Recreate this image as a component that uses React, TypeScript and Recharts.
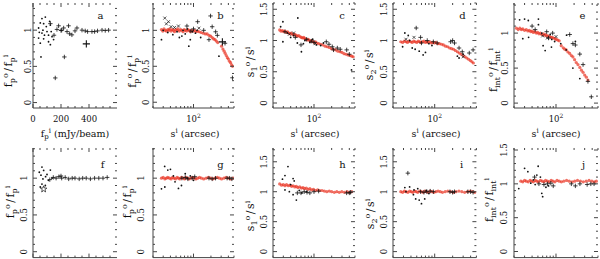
import React from "react";
import { ScatterChart, Scatter, XAxis, YAxis } from "recharts";

type Pt = [number, number];

// ---- tick positions ----
const linXMajor = [0, 200, 400];
const linXMinor = [50, 100, 150, 250, 300, 350, 450, 500, 550];
const logXMajor = [100];
const logXMinor = [20, 30, 40, 50, 60, 70, 80, 90, 200, 300, 400, 500];
const yMajor = [0, 0.5, 1, 1.5];
const yMinor = [0.1, 0.2, 0.3, 0.4, 0.6, 0.7, 0.8, 0.9, 1.1, 1.2, 1.3, 1.4, 1.6, 1.7];

// ---- panel a (peak flux vs peak flux) ----
const aDots: Pt[] = [[64, 1.16], [88, 1.18], [52, 1.1], [76, 1.09], [119, 1.12], [124, 1.07], [40, 1.03], [71, 1.0], [100, 0.98], [64, 0.96], [111, 0.93], [136, 0.91], [40, 0.89], [76, 0.88], [111, 0.84], [52, 0.82], [147, 0.87], [124, 0.8], [57, 0.63], [95, 1.05], [82, 0.93], [45, 0.97], [130, 0.98]];
const aPlus: Pt[] = [[124, 1.09], [171, 1.01], [183, 1.06], [200, 0.995], [219, 1.03], [254, 1.06], [243, 0.98], [262, 0.95], [278, 0.935], [314, 1.03], [350, 1.0], [373, 0.99], [390, 0.98], [421, 0.98], [461, 0.99], [493, 1.0], [516, 0.995], [540, 1.0], [224, 0.63], [159, 0.34], [150, 0.93], [205, 1.0], [300, 0.99], [440, 0.98]];
const aBig: Pt[] = [[381, 0.81]];

// ---- panel b ----
const bRed: Pt[] = [[28, 1.01], [29.5, 0.99], [31, 1.02], [32.5, 1.0], [34, 0.99], [36, 1.01], [37.5, 1.0], [39, 1.02], [41, 0.99], [43, 1.01], [45, 1.0], [47, 0.98], [49, 1.01], [52, 1.0], [54, 1.02], [57, 0.99], [60, 1.01], [63, 1.0], [66, 0.98], [69, 1.01], [72, 1.0], [76, 0.99], [80, 1.01], [84, 1.0], [88, 0.98], [93, 1.0], [98, 0.99], [104, 1.0], [110, 0.98], [117, 0.99], [125, 0.98], [135, 0.97], [147, 0.96], [160, 0.95], [172, 0.95], [185, 0.93], [198, 0.92], [210, 0.9], [222, 0.88], [235, 0.87], [248, 0.85], [262, 0.83], [305, 0.78], [322, 0.74], [338, 0.71], [352, 0.68], [368, 0.65], [384, 0.62], [400, 0.6], [418, 0.57], [437, 0.55], [455, 0.52], [472, 0.5]];
const bDots: Pt[] = [[28, 0.87], [44, 0.94], [57, 0.9], [63, 0.92], [72, 0.95], [88, 0.87], [96, 0.98], [108, 0.96], [83, 0.78], [133, 0.9], [275, 0.64], [36, 0.97], [66, 1.0], [52, 0.98], [78, 1.02], [115, 1.0], [30, 1.0]];
const bCross: Pt[] = [[32, 1.17], [37, 1.12], [34, 1.09], [47, 1.04], [124, 1.03], [41, 1.05], [55, 1.06]];
const bPlus: Pt[] = [[77, 1.06], [118, 1.12], [197, 1.2], [210, 1.05], [241, 0.98], [258, 0.93], [185, 0.87], [350, 0.82], [470, 0.34], [150, 1.0], [100, 1.02], [90, 0.99]];
const bBig: Pt[] = [[315, 0.84]];

// ---- panel c ----
const cRed: Pt[] = [[26, 1.17], [27.5, 1.15], [29, 1.16], [30.5, 1.14], [32, 1.15], [34, 1.13], [35.5, 1.14], [37, 1.12], [39, 1.11], [41, 1.12], [43, 1.1], [45, 1.09], [47.5, 1.1], [50, 1.08], [52, 1.07], [55, 1.08], [58, 1.06], [61, 1.05], [64, 1.04], [67, 1.05], [70, 1.03], [73, 1.02], [77, 1.01], [80, 1.02], [84, 1.0], [88, 0.99], [92, 1.0], [96, 0.98], [101, 0.97], [106, 0.98], [112, 0.96], [120, 0.95], [130, 0.94], [142, 0.93], [155, 0.91], [168, 0.9], [182, 0.89], [198, 0.87], [215, 0.86], [235, 0.85], [255, 0.83], [278, 0.82], [300, 0.81], [325, 0.79], [352, 0.78], [380, 0.77], [410, 0.76], [440, 0.75], [465, 0.74]];
const cDots: Pt[] = [[29.5, 1.3], [27, 1.22], [53, 1.36], [29.5, 0.98], [52, 0.96], [61, 0.82], [40, 1.05], [45, 1.08], [35, 1.12], [70, 1.0], [66, 0.95], [85, 0.97], [95, 1.02], [110, 0.93], [130, 0.92], [145, 0.96], [436, 0.53]];
const cCross: Pt[] = [[38, 1.1], [45, 1.12], [105, 0.95]];
const cPlus: Pt[] = [[32, 1.14], [60, 0.93], [75, 1.02], [90, 0.99], [100, 0.97], [162, 0.98], [180, 0.94], [205, 0.9], [215, 0.85], [250, 0.88], [280, 0.86], [361, 0.85], [400, 0.78], [48, 1.05]];

// ---- panel d ----
const dRed: Pt[] = [[27, 0.98], [29, 0.97], [31, 0.99], [33, 0.98], [35, 0.97], [37, 0.99], [39.5, 0.98], [42, 0.97], [44.5, 0.99], [47, 0.98], [50, 0.97], [53, 0.99], [56, 0.98], [59, 0.97], [62, 0.98], [66, 0.99], [70, 0.97], [74, 0.98], [78, 0.97], [83, 0.98], [88, 0.96], [93, 0.97], [99, 0.96], [105, 0.97], [112, 0.95], [120, 0.95], [130, 0.94], [140, 0.93], [152, 0.91], [165, 0.9], [178, 0.88], [192, 0.87], [207, 0.86], [222, 0.84], [240, 0.82], [258, 0.8], [278, 0.78], [300, 0.76], [322, 0.74], [345, 0.72], [370, 0.7], [395, 0.68], [420, 0.66], [445, 0.64]];
const dDots: Pt[] = [[31.6, 1.12], [36, 1.08], [29, 0.9], [42, 0.88], [47, 0.86], [55, 0.83], [64, 0.77], [70, 0.81], [38, 1.0], [80, 0.95], [90, 0.92], [256, 0.72], [240, 0.75], [300, 0.78]];
const dCross: Pt[] = [[33, 1.02], [45, 1.05], [300, 0.74]];
const dPlus: Pt[] = [[49, 1.2], [58, 1.05], [75, 1.0], [95, 0.98], [110, 0.96], [185, 0.98], [200, 1.0], [215, 0.96], [256, 0.88], [290, 0.82], [440, 0.85], [380, 0.8], [60, 0.96]];

// ---- panel e ----
const eRed: Pt[] = [[22, 1.07], [23.5, 1.05], [25, 1.07], [26.5, 1.05], [28, 1.06], [30, 1.04], [32, 1.05], [34, 1.03], [36, 1.04], [38, 1.02], [40, 1.03], [42, 1.01], [44.5, 1.02], [47, 1.0], [49.5, 1.01], [52, 0.99], [55, 1.0], [58, 0.98], [61, 0.99], [64, 0.97], [67, 0.98], [70, 0.96], [74, 0.96], [78, 0.95], [82, 0.94], [86, 0.94], [91, 0.93], [96, 0.92], [101, 0.91], [107, 0.9], [113, 0.89], [122, 0.82], [132, 0.79], [140, 0.77], [148, 0.76], [158, 0.73], [169, 0.71], [180, 0.68], [191, 0.66], [204, 0.62], [217, 0.58], [232, 0.55], [249, 0.51], [265, 0.47], [282, 0.44], [300, 0.4], [320, 0.37], [340, 0.33]];
const eDots: Pt[] = [[24.8, 1.19], [30, 1.2], [34.6, 1.18], [51, 1.2], [51, 1.12], [28, 0.92], [35, 0.94], [58, 1.0], [61, 0.82], [66, 0.75], [80, 0.98], [85, 0.91], [95, 0.88], [84, 0.8], [120, 0.85], [148, 0.76], [191, 0.5], [249, 0.35], [210, 0.88], [150, 0.97]];
const eCross: Pt[] = [[60, 0.96], [72, 0.93], [100, 0.95]];
const ePlus: Pt[] = [[40, 1.1], [45, 1.05], [70, 1.02], [88, 1.0], [169, 0.98], [191, 0.85], [210, 0.83], [249, 0.7], [282, 0.55], [340, 0.31], [387, 0.09], [75, 0.93]];

// ---- panel f ----
const fDots: Pt[] = [[64, 1.15], [76, 1.105], [124, 1.11], [57, 1.04], [100, 1.05], [71, 0.99], [136, 1.0], [64, 0.92], [88, 0.9], [52, 0.88], [45, 1.08], [110, 0.97], [90, 1.02]];
const fStar: Pt[] = [[76, 0.85]];
const fPlus: Pt[] = [[145, 1.01], [165, 1.0], [185, 1.02], [205, 1.0], [230, 1.01], [255, 0.99], [280, 1.0], [300, 1.0], [330, 0.99], [355, 1.0], [380, 1.0], [410, 0.99], [440, 1.0], [470, 1.0], [500, 1.0], [530, 1.01], [120, 0.98], [200, 1.03]];

// ---- panel g ----
const gRed: Pt[] = [[28, 1.0], [30, 1.01], [32, 0.99], [34, 1.0], [36, 1.01], [38.5, 1.0], [41, 0.99], [43.5, 1.01], [46, 1.0], [49, 0.99], [52, 1.01], [55, 1.0], [58, 0.99], [62, 1.01], [66, 1.0], [70, 0.99], [74, 1.01], [79, 1.0], [84, 0.99], [90, 1.0], [96, 1.01], [103, 1.0], [110, 0.99], [118, 1.0], [127, 1.01], [137, 1.0], [150, 0.99], [165, 1.0], [180, 1.01], [198, 1.0], [215, 0.99], [235, 1.0], [258, 1.01], [280, 1.0], [305, 0.99], [335, 1.0], [365, 1.01], [400, 1.0], [440, 0.99], [480, 1.0]];
const gDots: Pt[] = [[31.8, 1.16], [36, 1.11], [40, 1.12], [28, 0.855], [32, 0.88], [48, 0.95], [55, 0.86], [62, 0.9], [72, 1.06], [78, 1.0], [88, 1.03], [45, 1.03], [100, 0.97]];
const gPlus: Pt[] = [[63, 1.0], [72, 1.01], [80, 0.99], [95, 1.0], [105, 1.02], [185, 1.0], [210, 0.99], [240, 1.0], [380, 1.0], [420, 1.0], [460, 0.99]];

// ---- panel h ----
const hRed: Pt[] = [[26, 1.13], [28, 1.11], [30, 1.12], [32, 1.1], [34, 1.12], [36.5, 1.1], [39, 1.11], [41.5, 1.09], [44, 1.1], [47, 1.08], [50, 1.09], [53, 1.07], [57, 1.08], [61, 1.06], [65, 1.07], [69, 1.05], [74, 1.06], [79, 1.04], [85, 1.05], [91, 1.03], [98, 1.04], [106, 1.02], [115, 1.03], [125, 1.02], [137, 1.02], [150, 1.01], [165, 1.0], [182, 1.01], [200, 1.0], [222, 0.99], [245, 1.0], [270, 0.99], [298, 1.0], [330, 0.99], [365, 1.0], [400, 0.99], [440, 1.0]];
const hDots: Pt[] = [[29, 1.21], [32, 1.27], [36, 1.42], [44, 1.22], [46, 1.18], [32, 1.03], [38, 1.0], [44, 0.95], [50, 0.86], [56, 1.02], [40, 1.12], [62, 0.98], [75, 1.0]];
const hPlus: Pt[] = [[52, 0.98], [60, 0.98], [68, 1.0], [76, 0.99], [85, 0.98], [100, 1.0], [120, 1.01], [360, 0.98], [420, 0.99], [400, 0.98]];

// ---- panel i ----
const iRed: Pt[] = [[27, 1.0], [29, 0.99], [31, 1.01], [33, 1.0], [35.5, 0.99], [38, 1.01], [40.5, 1.0], [43, 0.99], [46, 1.01], [49, 1.0], [52, 0.99], [56, 1.01], [60, 1.0], [64, 0.99], [68, 1.01], [73, 1.0], [78, 0.99], [84, 1.01], [90, 1.0], [97, 0.99], [105, 1.0], [114, 1.01], [124, 1.0], [135, 0.99], [150, 1.0], [166, 1.01], [185, 1.0], [205, 0.99], [228, 1.0], [255, 1.01], [285, 1.0], [318, 0.99], [355, 1.0], [395, 1.01], [435, 1.0], [470, 0.99]];
const iDots: Pt[] = [[31.6, 1.07], [38, 1.08], [33, 1.0], [45, 1.03], [48, 0.88], [55, 0.86], [60, 0.8], [68, 0.88], [72, 1.02], [44, 0.95], [80, 0.97], [52, 1.05]];
const iPlus: Pt[] = [[35.5, 1.31], [58, 1.0], [66, 0.99], [74, 1.0], [84, 1.01], [95, 1.0], [180, 1.0], [200, 0.99], [215, 1.0], [360, 1.0], [400, 1.0], [440, 0.99]];

// ---- panel j ----
const jRed: Pt[] = [[26, 1.04], [28, 1.03], [30, 1.05], [32, 1.04], [34.5, 1.03], [37, 1.05], [39.5, 1.04], [42, 1.03], [45, 1.05], [48, 1.04], [51, 1.03], [55, 1.05], [59, 1.04], [63, 1.03], [67, 1.05], [72, 1.04], [77, 1.03], [83, 1.05], [89, 1.04], [96, 1.03], [104, 1.05], [113, 1.04], [123, 1.03], [135, 1.04], [150, 1.05], [166, 1.04], [185, 1.03], [205, 1.04], [228, 1.05], [255, 1.04], [285, 1.03], [318, 1.04], [355, 1.05], [395, 1.04], [435, 1.03], [470, 1.04]];
const jDots: Pt[] = [[24, 0.93], [30, 1.23], [34, 1.18], [50.5, 1.26], [48, 1.13], [42, 1.06], [55, 1.1], [58, 0.86], [60, 0.81], [68, 0.95], [75, 0.97], [45, 0.99], [38, 1.01]];
const jPlus: Pt[] = [[44, 1.1], [52, 1.0], [63, 0.99], [72, 1.0], [82, 1.01], [90, 0.97], [180, 1.0], [210, 0.97], [250, 1.0], [330, 0.99], [380, 1.0], [430, 1.0]];

// ---- look ----
const FONT = "'DejaVu Serif', serif";
const INK = "#111";
const FRAME = "#444";
const RED = "#ea3322";

const dot = (p: any) => <circle cx={p.cx} cy={p.cy} r={0.9} fill={INK} />;
const plusOf = (s: number, w: number) => (p: any) => (
  <path d={`M${p.cx - s},${p.cy}H${p.cx + s}M${p.cx},${p.cy - s}V${p.cy + s}`} stroke={INK} strokeWidth={w} fill="none" />
);
const plus = plusOf(2.2, 0.8);
const bigPlus = plusOf(3.6, 1.1);
const cross = (p: any) => (
  <path d={`M${p.cx - 1.5},${p.cy - 1.5}L${p.cx + 1.5},${p.cy + 1.5}M${p.cx - 1.5},${p.cy + 1.5}L${p.cx + 1.5},${p.cy - 1.5}`} stroke={INK} strokeWidth={0.7} fill="none" />
);
const redMark = (p: any) => <circle cx={p.cx} cy={p.cy} r={1.6} fill={RED} fillOpacity={0.7} />;
const star = (p: any) => {
  const pts: string[] = [];
  for (let k = 0; k < 10; k++) {
    const r = k % 2 ? 1.4 : 3.4;
    const a = -Math.PI / 2 + (k * Math.PI) / 5;
    pts.push(`${p.cx + r * Math.cos(a)},${p.cy + r * Math.sin(a)}`);
  }
  return <polygon points={pts.join(" ")} fill="none" stroke={INK} strokeWidth={0.7} />;
};

const Blank = () => null;

const X_GAP = 14; // label baseline below the frame
const MAJOR = 4;
const MINOR = 2;

// bottom axis tick: draws the inward tick on the bottom and top frame, plus the label
const makeXTick = (H: number, majors: number[], kind: "lin" | "log" | null) => (p: any) => {
  const v = p.payload.value;
  const major = majors.includes(v);
  const len = major ? MAJOR : MINOR;
  const yb = p.y - X_GAP;
  const yt = yb - H;
  return (
    <g>
      <line x1={p.x} x2={p.x} y1={yb} y2={yb - len} stroke={FRAME} />
      <line x1={p.x} x2={p.x} y1={yt} y2={yt + len} stroke={FRAME} />
      {major && kind === "lin" && (
        <text x={p.x} y={p.y} textAnchor="middle" fontSize={8.5} fontFamily={FONT} fill={INK}>
          {v}
        </text>
      )}
      {major && kind === "log" && (
        <text x={p.x} y={p.y} textAnchor="middle" fontSize={8.5} fontFamily={FONT} fill={INK}>
          10<tspan dy={-4} fontSize={6}>2</tspan>
        </text>
      )}
    </g>
  );
};

// left axis tick: inward ticks on left and right frame, rotated label on majors
const makeYTick = (W: number, gap: number, majors: number[]) => (p: any) => {
  const v = p.payload.value;
  const major = majors.includes(v);
  const len = major ? MAJOR : MINOR;
  const xl = p.x + gap;
  const xr = xl + W;
  return (
    <g>
      <line x1={xl} x2={xl + len} y1={p.y} y2={p.y} stroke={FRAME} />
      <line x1={xr} x2={xr - len} y1={p.y} y2={p.y} stroke={FRAME} />
      {major && (
        <text x={p.x} y={p.y} transform={`rotate(-90 ${p.x} ${p.y})`} textAnchor="middle" fontSize={8.5} fontFamily={FONT} fill={INK}>
          {String(v)}
        </text>
      )}
    </g>
  );
};

type Series = { data: Pt[]; shape: any };
type PanelCfg = {
  id: string;
  L: number; T: number; W: number; H: number;
  log: boolean;
  yDom: [number, number];
  tickGap: number;
  top: boolean;
  title: string;
  titleX: number; titleY: number;
  xTitleX: number;
  letterX: number;
  series: Series[];
};

const cols = [
  { L: 32.7, W: 84 },
  { L: 152.7, W: 81 },
  { L: 273.3, W: 82 },
  { L: 393.3, W: 83.4 },
  { L: 514.3, W: 84 },
];
const TOP = { T: 3.3, H: 105 };
const BOT = { T: 147.7, H: 109.6 };

const panels: PanelCfg[] = [
  { id: "a", ...cols[0], ...TOP, log: false, yDom: [-0.075, 1.375], tickGap: 2, top: true, title: "fp", titleX: 12, titleY: 71, xTitleX: 75, letterX: 100.5,
    series: [{ data: aDots, shape: dot }, { data: aPlus, shape: plus }, { data: aBig, shape: bigPlus }] },
  { id: "b", ...cols[1], ...TOP, log: true, yDom: [-0.08, 1.38], tickGap: 4, top: true, title: "fp", titleX: 136, titleY: 71.5, xTitleX: 195, letterX: 220.5,
    series: [{ data: bRed, shape: redMark }, { data: bDots, shape: dot }, { data: bCross, shape: cross }, { data: bPlus, shape: plus }, { data: bBig, shape: bigPlus }] },
  { id: "c", ...cols[2], ...TOP, log: true, yDom: [-0.08, 1.6], tickGap: 6, top: true, title: "s1", titleX: 254, titleY: 62, xTitleX: 315, letterX: 342,
    series: [{ data: cRed, shape: redMark }, { data: cDots, shape: dot }, { data: cCross, shape: cross }, { data: cPlus, shape: plus }] },
  { id: "d", ...cols[3], ...TOP, log: true, yDom: [-0.08, 1.6], tickGap: 6, top: true, title: "s2", titleX: 373, titleY: 65, xTitleX: 436, letterX: 462.5,
    series: [{ data: dRed, shape: redMark }, { data: dDots, shape: dot }, { data: dCross, shape: cross }, { data: dPlus, shape: plus }] },
  { id: "e", ...cols[4], ...TOP, log: true, yDom: [-0.07, 1.43], tickGap: 6, top: true, title: "fint", titleX: 497, titleY: 70, xTitleX: 556, letterX: 582.5,
    series: [{ data: eRed, shape: redMark }, { data: eDots, shape: dot }, { data: eCross, shape: cross }, { data: ePlus, shape: plus }] },
  { id: "f", ...cols[0], ...BOT, log: false, yDom: [-0.08, 1.41], tickGap: 6, top: false, title: "fp", titleX: 14, titleY: 202, xTitleX: 0, letterX: 102.5,
    series: [{ data: fDots, shape: dot }, { data: fStar, shape: star }, { data: fPlus, shape: plus }] },
  { id: "g", ...cols[1], ...BOT, log: true, yDom: [-0.08, 1.41], tickGap: 9, top: false, title: "fp", titleX: 131, titleY: 202, xTitleX: 0, letterX: 220.5,
    series: [{ data: gRed, shape: redMark }, { data: gDots, shape: dot }, { data: gPlus, shape: plus }] },
  { id: "h", ...cols[2], ...BOT, log: true, yDom: [-0.1, 1.73], tickGap: 6, top: false, title: "s1", titleX: 254, titleY: 216, xTitleX: 0, letterX: 342.5,
    series: [{ data: hRed, shape: redMark }, { data: hDots, shape: dot }, { data: hPlus, shape: plus }] },
  { id: "i", ...cols[3], ...BOT, log: true, yDom: [-0.1, 1.73], tickGap: 6, top: false, title: "s2", titleX: 374, titleY: 214, xTitleX: 0, letterX: 461.7,
    series: [{ data: iRed, shape: redMark }, { data: iDots, shape: dot }, { data: iPlus, shape: plus }] },
  { id: "j", ...cols[4], ...BOT, log: true, yDom: [-0.09, 1.53], tickGap: 7, top: false, title: "fint", titleX: 493, titleY: 200, xTitleX: 0, letterX: 583.5,
    series: [{ data: jRed, shape: redMark }, { data: jDots, shape: dot }, { data: jPlus, shape: plus }] },
];

const ML = 40, MT = 6, MR = 6, MB = 36;
const toRows = (pts: Pt[]) => pts.map(([x, y]) => ({ x, y }));

function Panel({ p }: { p: PanelCfg }) {
  const [y0, y1] = p.yDom;
  const inY = (v: number) => v >= y0 && v <= y1;
  const yMaj = yMajor.filter(inY);
  const yAll = [...yMaj, ...yMinor.filter(inY)];
  const xMaj = p.log ? logXMajor : linXMajor;
  const xAll = [...xMaj, ...(p.log ? logXMinor : linXMinor)];
  const xc: any = {
    type: "number",
    scale: p.log ? "log" : "linear",
    domain: p.log ? [20, 500] : [0, 600],
    allowDataOverflow: true,
    interval: 0,
    stroke: FRAME,
  };
  const yc: any = { type: "number", domain: p.yDom, allowDataOverflow: true, interval: 0, stroke: FRAME };
  const kind = p.top ? (p.log ? "log" : "lin") : null;
  return (
    <div style={{ position: "absolute", left: p.L - ML, top: p.T - MT }}>
      <ScatterChart
        width={p.W + ML + MR}
        height={p.H + MT + MB}
        margin={{ top: MT, right: MR, bottom: 0, left: 0 }}
      >
        <XAxis dataKey="x" {...xc} ticks={xAll} height={MB} tickLine={false} tickSize={0} tickMargin={X_GAP} tick={makeXTick(p.H, xMaj, kind)} />
        <XAxis xAxisId="top" {...xc} orientation="top" mirror height={0} tick={Blank} tickLine={false} />
        <YAxis dataKey="y" {...yc} ticks={yAll} width={ML} tickLine={false} tickSize={0} tickMargin={p.tickGap} tick={makeYTick(p.W, p.tickGap, yMaj)} />
        <YAxis yAxisId="right" {...yc} orientation="right" mirror width={0} tick={Blank} tickLine={false} />
        {p.series.map((s, i) => (
          <Scatter key={i} data={toRows(s.data)} shape={s.shape} isAnimationActive={false} />
        ))}
      </ScatterChart>
    </div>
  );
}

// ratio label on the y axis, e.g. f_p^o / f_p^i
function YTitle({ kind, x, y }: { kind: string; x: number; y: number }) {
  const base = kind.startsWith("s") ? "s" : "f";
  const sub = kind === "fp" ? "p" : kind === "fint" ? "int" : kind === "s1" ? "1" : "2";
  const denSub = base === "f" ? sub : null;
  return (
    <text x={x} y={y} transform={`rotate(-90 ${x} ${y})`} textAnchor="middle" fontSize={11} fontFamily={FONT} fill={INK}>
      {base}
      <tspan dy={2.5} fontSize={8}>{sub}</tspan>
      <tspan dy={-6.5} fontSize={8}>o</tspan>
      <tspan dy={4} dx={1.5}>/</tspan>
      <tspan dx={1.5}>{base}</tspan>
      {denSub ? (
        <>
          <tspan dy={2.5} fontSize={8}>{denSub}</tspan>
          <tspan dy={-6.5} fontSize={8}>i</tspan>
        </>
      ) : (
        <tspan dy={-4} fontSize={8}>i</tspan>
      )}
    </text>
  );
}

function XTitle({ flux, x, y }: { flux: boolean; x: number; y: number }) {
  return flux ? (
    <text x={x} y={y} textAnchor="middle" fontSize={9.5} fontFamily={FONT} fill={INK}>
      f<tspan dy={2.5} fontSize={7}>p</tspan>
      <tspan dy={-6} fontSize={7}>i</tspan>
      <tspan dy={3.5}> (mJy/beam)</tspan>
    </text>
  ) : (
    <text x={x} y={y} textAnchor="middle" fontSize={9.5} fontFamily={FONT} fill={INK}>
      s<tspan dy={-3.5} fontSize={7}>i</tspan>
      <tspan dy={3.5}> (arcsec)</tspan>
    </text>
  );
}

export default function App() {
  return (
    <div style={{ position: "absolute", left: 0, top: 0, width: 600, height: 259, overflow: "hidden", background: "#fff" }}>
      {panels.map((p) => (
        <Panel key={p.id} p={p} />
      ))}
      <svg width={600} height={259} style={{ position: "absolute", left: 0, top: 0, pointerEvents: "none" }}>
        {panels.map((p) => (
          <g key={p.id}>
            <YTitle kind={p.title} x={p.titleX} y={p.titleY} />
            {p.top && <XTitle flux={!p.log} x={p.xTitleX} y={136.5} />}
            <text x={p.letterX} y={p.top ? 19.3 : 167.5} textAnchor="middle" fontSize={10} fontFamily={FONT} fill={INK}>
              {p.id}
            </text>
          </g>
        ))}
      </svg>
    </div>
  );
}
